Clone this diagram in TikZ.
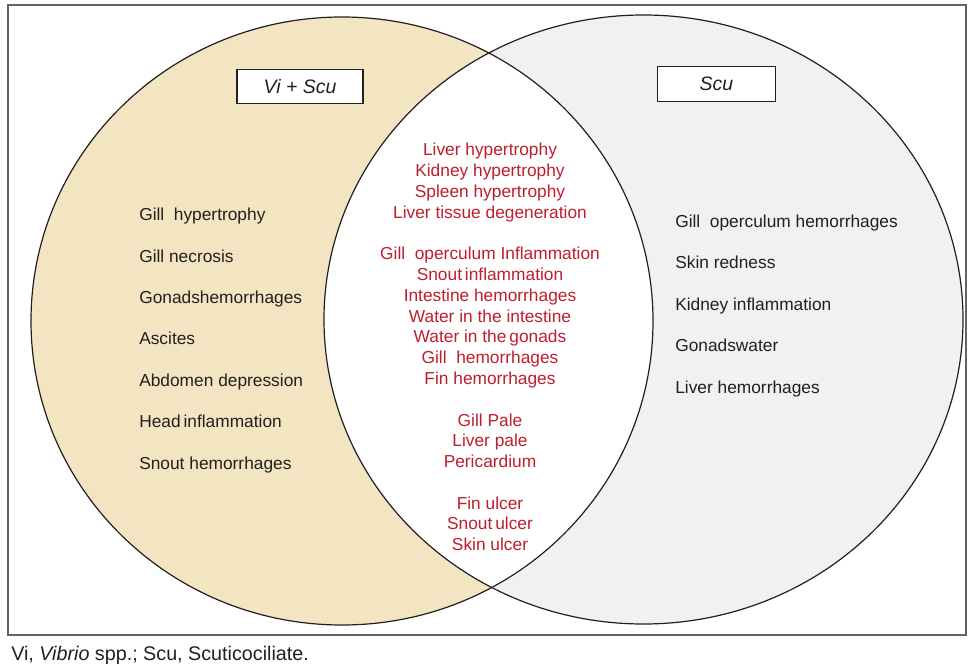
\documentclass[tikz,border=0pt]{standalone}
\usepackage{fontspec}
\setmainfont{Liberation Sans}
\definecolor{leftc}{RGB}{243,229,193}
\definecolor{rightc}{RGB}{241,241,241}
\definecolor{redt}{RGB}{190,30,45}
\definecolor{inkc}{RGB}{35,31,32}
\definecolor{framec}{RGB}{100,98,98}

\begin{document}
\begin{tikzpicture}[x=0.75pt,y=-0.75pt,
  item/.style={font=\fontsize{13pt}{15pt}\selectfont,inner sep=0pt,text=inkc},
  sign/.style={item,text=redt,anchor=base},
  tag/.style={draw=inkc,line width=0.8pt,fill=white,font=\fontsize{14.6pt}{17pt}\selectfont\itshape,
    minimum height=26pt,inner sep=0pt,text=inkc}]
\useasboundingbox (0,0) rectangle (969,666);

%================= frame =================
\draw[framec,line width=1.5pt] (8,5) rectangle (966,635);

%================= the two sets =================
\coordinate (lc) at (342,321);
\coordinate (rc) at (643.5,319.5);
\fill[leftc] (lc) ellipse [x radius=311,y radius=304];
\fill[rightc] (rc) ellipse [x radius=319.5,y radius=304.5];
\begin{scope}
  \clip (lc) ellipse [x radius=311,y radius=304];
  \fill[white] (rc) ellipse [x radius=319.5,y radius=304.5];
\end{scope}
\draw[inkc,line width=0.9pt] (lc) ellipse [x radius=311,y radius=304];
\draw[inkc,line width=0.9pt] (rc) ellipse [x radius=319.5,y radius=304.5];

\node[tag,minimum width=94.5pt] (vibox) at (300,86.5) {Vi + Scu};
\node[tag,minimum width=89pt] (scubox) at (716.5,84) {Scu};

%================= Vi + Scu only =================
\foreach \t [count=\i from 0] in {Gill~ hypertrophy,Gill necrosis,Gonadshemorrhages,Ascites,
  Abdomen depression,Head\,inflammation,Snout hemorrhages}
  \node[item,anchor=base west] (l\i) at (139,220.7+41.43*\i) {\t};

%================= Scu only =================
\foreach \t [count=\i from 0] in {Gill~ operculum hemorrhages,Skin redness,Kidney inflammation,
  Gonadswater,Liver hemorrhages}
  \node[item,anchor=base west] (r\i) at (675,227.5+41.4*\i) {\t};

%================= common to both =================
\foreach \k/\t in {0/Liver hypertrophy,1/Kidney hypertrophy,2/Spleen hypertrophy,
  3/Liver tissue degeneration,5/Gill~ operculum Inflammation,6/Snout\,inflammation,
  7/Intestine hemorrhages,8/Water in the intestine,9/Water in the\,gonads,10/Gill~ hemorrhages,
  11/Fin hemorrhages,13/Gill Pale,14/Liver pale,15/Pericardium,17/Fin ulcer,
  18/Snout\,ulcer,19/Skin ulcer}
  \node[sign] (m\k) at (490,156+20.77*\k) {\t};

% --- note under the frame
\node[item,anchor=base west,font=\fontsize{14.8pt}{17pt}\selectfont] (note) at (11,660)
  {Vi, \textit{Vibrio} spp.; Scu, Scuticociliate.};
\end{tikzpicture}
\end{document}
